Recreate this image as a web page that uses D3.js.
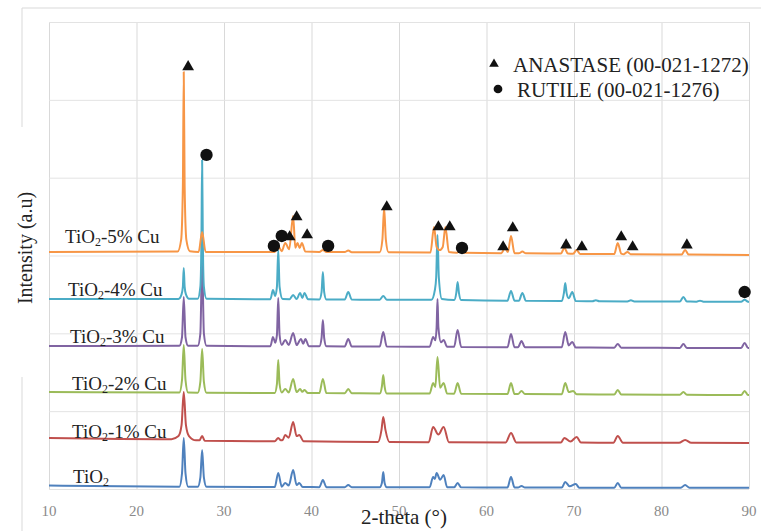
<!DOCTYPE html>
<html>
<head>
<meta charset="utf-8">
<script src="https://cdn.jsdelivr.net/npm/d3@7"></script>
<style>
  body { margin: 0; background: #fff; }
  svg { display: block; }
</style>
</head>
<body>
<div id="chart"></div>
<script>
// 2-theta ticks and series labels
var xTicks = [10, 20, 30, 40, 50, 60, 70, 80, 90];
var seriesNames = ["TiO2", "TiO2-1% Cu", "TiO2-2% Cu", "TiO2-3% Cu", "TiO2-4% Cu", "TiO2-5% Cu"];
var seriesColors = ["#4F81BD", "#C0504D", "#9BBB59", "#8064A2", "#4BACC6", "#F79646"];

// [2theta, intensity] (offset stacked)
var tio2 = [[10,45],[24.9,30],[25.2,200],[25.4,655],[25.6,200],[25.9,30],[27.0,28],[27.3,150],[27.5,501],[27.7,150],[28.0,28],
  [35.8,25],[36.2,206],[36.6,30],[37.0,77],[37.4,45],[37.9,244],[38.3,50],[38.6,77],[39.0,25],
  [40.9,24],[41.3,116],[41.7,24],[43.8,23],[44.2,51],[44.6,23],[47.8,22],[48.05,80],[48.2,218],[48.35,80],[48.6,22],
  [53.5,22],[53.9,154],[54.1,130],[54.3,206],[54.7,120],[55.1,180],[55.5,22],[56.3,21],[56.7,77],[57.1,21],
  [62.4,20],[62.8,154],[63.2,20],[63.6,19],[64.0,39],[64.4,19],[68.6,18],[69.0,90],[69.5,35],[70.2,64],[70.6,17],
  [74.6,17],[75.0,77],[75.4,17],[82.2,16],[82.7,51],[83.2,16],[90,15]];

var cu1 = [[10,655],[24.0,640],[24.8,680],[25.15,820],[25.4,1246],[25.65,820],[26.0,680],[26.8,625],[27.2,625],[27.5,681],[27.8,620],
  [35.8,612],[36.2,655],[36.5,625],[36.7,630],[37.0,694],[37.4,660],[37.9,861],[38.3,680],[38.6,694],[39.1,615],
  [47.6,605],[48.0,760],[48.2,925],[48.45,760],[48.9,605],[53.4,602],[53.9,797],[54.5,700],[55.1,797],[55.7,602],
  [62.2,598],[62.8,720],[63.4,598],[68.5,596],[68.9,655],[69.6,610],[70.3,668],[70.8,596],
  [74.5,595],[75.0,681],[75.6,595],[82.0,593],[82.7,630],[83.4,593],[90,591]];

var cu2 = [[10,1246],[24.9,1240],[25.2,1400],[25.4,1850],[25.6,1400],[25.9,1240],[27.0,1238],[27.3,1380],[27.5,1799],[27.7,1380],[28.0,1236],
  [35.8,1234],[36.05,1350],[36.2,1658],[36.35,1350],[36.6,1240],[37.0,1285],[37.4,1240],[37.9,1414],[38.3,1245],[38.7,1285],[38.95,1248],[39.2,1272],[39.6,1232],
  [40.9,1232],[41.3,1414],[41.7,1232],[43.8,1230],[44.2,1285],[44.6,1230],[47.8,1228],[48.05,1320],[48.2,1465],[48.35,1320],[48.6,1228],
  [53.5,1226],[53.9,1362],[54.15,1310],[54.4,1696],[54.7,1300],[55.1,1362],[55.5,1226],[56.3,1224],[56.7,1362],[57.1,1224],
  [62.4,1220],[62.8,1362],[63.2,1220],[63.6,1219],[64.0,1260],[64.4,1219],[68.6,1217],[69.0,1362],[69.4,1245],[69.9,1260],[70.3,1216],
  [74.6,1214],[75.0,1272],[75.4,1214],[82.1,1210],[82.5,1246],[82.9,1210],[89.1,1208],[89.5,1260],[89.9,1208],[90,1208]];

var cu3 = [[10,1838],[24.9,1840],[25.2,1950],[25.4,2467],[25.6,1950],[25.9,1840],[27.0,1840],[27.3,2000],[27.5,2917],[27.7,2000],[28.0,1840],
  [35.3,1835],[35.6,1953],[35.85,1880],[36.05,1980],[36.2,2454],[36.35,1980],[36.6,1850],[37.0,1915],[37.4,1850],[37.9,2005],[38.3,1850],
  [38.8,1928],[39.05,1865],[39.3,1928],[39.7,1835],
  [40.9,1833],[41.15,1940],[41.3,2172],[41.45,1940],[41.7,1833],[43.8,1832],[44.2,1928],[44.6,1830],[47.8,1830],[48.2,2017],[48.6,1830],
  [53.5,1828],[53.9,1953],[54.15,1910],[54.3,2080],[54.4,2440],[54.5,2080],[54.8,1885],[55.1,1915],[55.5,1828],[56.3,1827],[56.7,2043],[57.1,1826],
  [62.4,1822],[62.8,1992],[63.2,1822],[63.6,1821],[64.0,1902],[64.4,1821],[68.6,1820],[69.0,2017],[69.4,1845],[69.8,1889],[70.2,1818],
  [74.6,1816],[75.0,1863],[75.4,1816],[82.1,1813],[82.5,1863],[82.9,1813],[89.1,1812],[89.5,1876],[89.9,1812],[90,1812]];

var cu4 = [[10,2442],[24.8,2442],[25.15,2500],[25.3,2600],[25.4,2840],[25.5,2600],[25.65,2500],[26.0,2445],
  [27.0,2445],[27.3,2600],[27.42,3200],[27.5,4228],[27.58,3200],[27.7,2600],[28.0,2445],
  [35.3,2438],[35.6,2557],[35.85,2480],[36.05,2600],[36.2,3071],[36.35,2600],[36.7,2440],[37.5,2438],[37.9,2493],[38.3,2440],
  [38.7,2519],[38.95,2455],[39.2,2519],[39.6,2438],
  [40.9,2436],[41.15,2530],[41.3,2788],[41.45,2530],[41.7,2436],[43.8,2435],[44.2,2531],[44.6,2434],[47.8,2432],[48.2,2480],[48.6,2432],
  [53.7,2430],[54.1,2557],[54.25,2720],[54.4,3264],[54.55,2720],[54.9,2440],[56.3,2428],[56.55,2520],[56.7,2660],[56.85,2520],[57.1,2428],
  [62.4,2420],[62.8,2544],[63.2,2420],[63.7,2418],[64.1,2519],[64.5,2418],[68.6,2415],[68.85,2520],[69.0,2647],[69.15,2520],[69.4,2450],[69.8,2531],[70.2,2415],
  [72.1,2413],[72.5,2425],[72.9,2413],[76.1,2410],[76.5,2425],[76.9,2410],[82.1,2408],[82.5,2467],[82.9,2408],
  [84.0,2407],[84.4,2420],[84.8,2407],[89.1,2405],[89.5,2430],[89.9,2405],[90,2403]];

var cu5 = [[10,3045],[24.7,3050],[25.1,3200],[25.3,3900],[25.4,5358],[25.5,3900],[25.7,3200],[26.1,3055],[27.1,3045],[27.5,3302],[27.9,3045],
  [35.8,3045],[36.2,3122],[36.6,3055],[37.0,3161],[37.45,3080],[37.9,3508],[38.15,3100],[38.4,3161],[38.65,3095],[38.9,3160],[39.3,3050],
  [40.9,3045],[41.3,3070],[41.7,3045],[43.8,3045],[44.2,3065],[44.6,3042],[47.8,3042],[48.1,3200],[48.3,3611],[48.5,3200],[48.8,3042],
  [53.6,3040],[54.0,3367],[54.3,3110],[54.65,3070],[55.0,3110],[55.3,3367],[55.7,3045],[56.6,3035],[57.0,3055],[57.4,3035],
  [61.7,3030],[62.1,3097],[62.45,3045],[62.8,3251],[63.2,3030],[63.7,3028],[64.1,3050],[64.5,3028],
  [68.5,3025],[68.9,3097],[69.3,3025],[69.9,3022],[70.3,3071],[70.7,3020],[74.6,3018],[75.0,3161],[75.4,3025],
  [75.7,3017],[76.1,3045],[76.5,3016],[82.3,3012],[82.7,3071],[83.1,3012],[90,3007]];

var seriesData = [tio2, cu1, cu2, cu3, cu4, cu5];

// phase markers placed over the peaks
var anatasePeaks = [[25.9,5423],[37.5,3238],[38.3,3495],[39.5,3264],[48.6,3624],[54.5,3367],[55.8,3367],[61.9,3110],
  [63.0,3354],[69.1,3135],[70.9,3110],[75.4,3238],[76.7,3110],[82.9,3135]];
var rutilePeaks = [[28.0,4292],[35.7,3123],[36.6,3251],[41.9,3123],[57.2,3097],[89.5,2531]];

var width = 761, height = 531;
var margin = {top: 22, right: 12, bottom: 42, left: 49};
var serif = "'Liberation Serif', 'DejaVu Serif', serif";

var svg = d3.select("#chart").append("svg")
    .attr("width", width)
    .attr("height", height);

var x = d3.scaleLinear().domain([10, 90]).range([margin.left, width - margin.right]);
var y = d3.scaleLinear().domain([0, 6000]).range([height - margin.bottom, margin.top]);

// outer frame, broken where the y title sits
svg.append("path")
    .attr("d", "M22,127 V8 H761 M22,377 V531")
    .attr("fill", "none")
    .attr("stroke", "#d9d9d9");

// grid
svg.append("g")
    .attr("transform", `translate(0,${height - margin.bottom})`)
    .call(d3.axisBottom(x).tickValues(xTicks).tickSize(-(height - margin.top - margin.bottom)).tickFormat(""))
    .call(g => g.select(".domain").remove())
    .call(g => g.selectAll("line").attr("stroke", "#d9d9d9"));

svg.append("g")
    .attr("transform", `translate(${margin.left},0)`)
    .call(d3.axisLeft(y).ticks(6).tickSize(-(width - margin.left - margin.right)).tickFormat(""))
    .call(g => g.select(".domain").remove())
    .call(g => g.selectAll("line").attr("stroke", "#e3e3e3"));

// x tick labels
svg.append("g")
    .selectAll("text")
    .data(xTicks)
    .join("text")
    .attr("x", d => x(d))
    .attr("y", height - 15)
    .attr("text-anchor", "middle")
    .attr("font-family", serif)
    .attr("font-size", 15)
    .attr("fill", "#8a8a8a")
    .text(d => d);

// the patterns
var line = d3.line()
    .x(d => x(d[0]))
    .y(d => y(d[1]))
    .curve(d3.curveMonotoneX);

svg.append("g")
    .selectAll("path")
    .data(seriesData)
    .join("path")
    .attr("fill", "none")
    .attr("stroke", (d, i) => seriesColors[i])
    .attr("stroke-width", 2)
    .attr("stroke-linejoin", "round")
    .attr("d", line);

// series labels, TiO2 with subscript
var labelPos = [[73, 483], [72, 438], [72, 390], [70, 343], [68, 296], [65, 243]];
var labels = svg.append("g")
    .attr("font-family", serif)
    .attr("font-size", 19)
    .attr("fill", "#222");

seriesNames.forEach(function(name, i) {
  var t = labels.append("text")
      .attr("x", labelPos[i][0])
      .attr("y", labelPos[i][1]);
  t.append("tspan").text("TiO");
  t.append("tspan").attr("font-size", 12).attr("dy", 3).text("2");
  t.append("tspan").attr("dy", -3).text(name.slice(4));
});

// markers
var tri = d3.symbol().type(d3.symbolTriangle).size(60);
var dot = d3.symbol().type(d3.symbolCircle).size(120);

svg.append("g")
    .selectAll("path")
    .data(anatasePeaks)
    .join("path")
    .attr("transform", d => `translate(${x(d[0])},${y(d[1])})`)
    .attr("d", tri)
    .attr("fill", "#111");

svg.append("g")
    .selectAll("path")
    .data(rutilePeaks)
    .join("path")
    .attr("transform", d => `translate(${x(d[0])},${y(d[1])})`)
    .attr("d", dot)
    .attr("fill", "#111");

// legend
var legend = svg.append("g")
    .attr("font-family", serif)
    .attr("font-size", 21)
    .attr("fill", "#222");

legend.append("path")
    .attr("transform", "translate(494,64)")
    .attr("d", d3.symbol().type(d3.symbolTriangle).size(40))
    .attr("fill", "#111");
legend.append("text").attr("x", 513).attr("y", 72).text("ANASTASE (00-021-1272)");

legend.append("path")
    .attr("transform", "translate(498,89)")
    .attr("d", d3.symbol().type(d3.symbolCircle).size(60))
    .attr("fill", "#111");
legend.append("text").attr("x", 517).attr("y", 97).text("RUTILE (00-021-1276)");

// axis titles
svg.append("text")
    .attr("x", 404)
    .attr("y", 524)
    .attr("text-anchor", "middle")
    .attr("font-family", serif)
    .attr("font-size", 21)
    .attr("fill", "#222")
    .text("2-theta (°)");

svg.append("text")
    .attr("transform", "translate(32,248) rotate(-90)")
    .attr("text-anchor", "middle")
    .attr("font-family", serif)
    .attr("font-size", 20)
    .attr("fill", "#222")
    .text("Intensity (a.u)");
</script>
</body>
</html>
